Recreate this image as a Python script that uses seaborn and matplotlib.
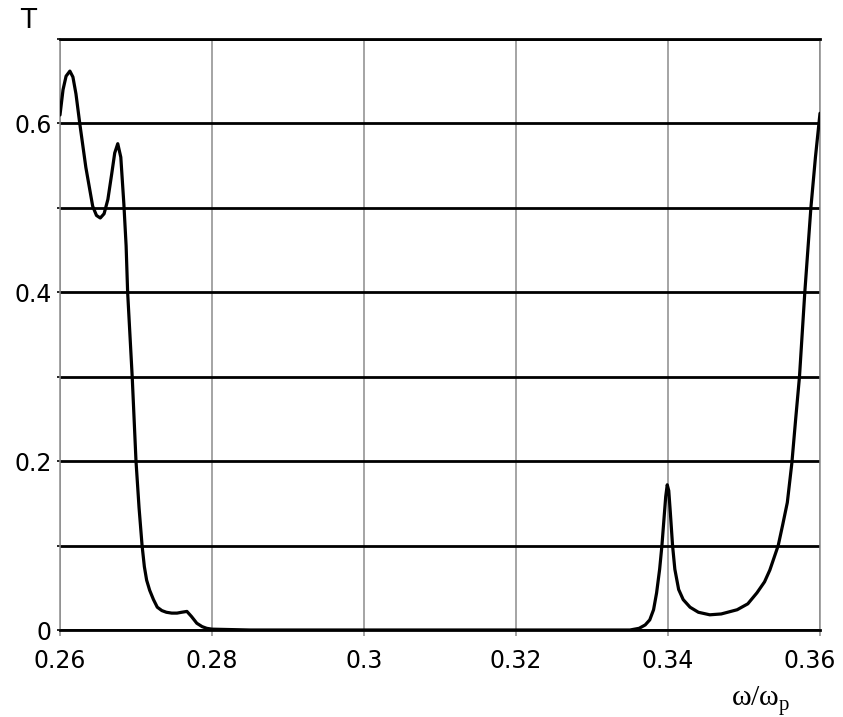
import numpy as np
import pandas as pd
import matplotlib
matplotlib.use("Agg")
import matplotlib.pyplot as plt
from matplotlib.transforms import ScaledTranslation
import seaborn as sns

# Transmission spectrum T(omega/omega_p)
freq = [
    0.2600, 0.2604, 0.2608, 0.2613, 0.2617, 0.2621, 0.2626, 0.2634, 0.2643, 0.2648,
    0.2653, 0.2658, 0.2663, 0.2668, 0.2672, 0.2676, 0.2680, 0.2684, 0.2687, 0.2689,
    0.2692, 0.2695, 0.2700, 0.2704, 0.2708, 0.2711, 0.2714, 0.2718, 0.2723, 0.2728,
    0.2734, 0.2740, 0.2747, 0.2754, 0.2760, 0.2767, 0.2773, 0.2780, 0.2787, 0.2793,
    0.2800, 0.2850, 0.2900, 0.2950, 0.3000, 0.3050, 0.3100, 0.3150, 0.3200, 0.3250,
    0.3300, 0.3350, 0.3362, 0.3370, 0.3376, 0.3381, 0.3385, 0.3389, 0.3392, 0.3395,
    0.3397, 0.3399, 0.3401, 0.3403, 0.3406, 0.3409, 0.3414, 0.3420, 0.3429, 0.3440,
    0.3455, 0.3470, 0.3491, 0.3505, 0.3517, 0.3527, 0.3534, 0.3545, 0.3551, 0.3557,
    0.3563, 0.3568, 0.3573, 0.3580, 0.3588, 0.3594, 0.3600,
]
transmission = [
    0.610, 0.640, 0.656, 0.662, 0.655, 0.635, 0.600, 0.548, 0.502, 0.491,
    0.488, 0.493, 0.510, 0.540, 0.565, 0.576, 0.560, 0.505, 0.455, 0.400,
    0.350, 0.300, 0.200, 0.145, 0.100, 0.075, 0.059, 0.047, 0.036, 0.027,
    0.023, 0.021, 0.020, 0.020, 0.021, 0.022, 0.016, 0.008, 0.004, 0.002,
    0.001, 0.000, 0.000, 0.000, 0.000, 0.000, 0.000, 0.000, 0.000, 0.000,
    0.000, 0.000, 0.002, 0.006, 0.012, 0.024, 0.044, 0.072, 0.100, 0.135,
    0.158, 0.172, 0.165, 0.140, 0.100, 0.072, 0.048, 0.036, 0.027, 0.021,
    0.018, 0.019, 0.024, 0.031, 0.044, 0.057, 0.071, 0.100, 0.125, 0.151,
    0.198, 0.250, 0.300, 0.400, 0.500, 0.560, 0.612,
]

x_ticks = [0.26, 0.28, 0.30, 0.32, 0.34, 0.36]
x_tick_labels = ["0.26", "0.28", "0.3", "0.32", "0.34", "0.36"]
y_ticks = [0.0, 0.1, 0.2, 0.3, 0.4, 0.5, 0.6, 0.7]
y_tick_labels = ["0", "", "0.2", "", "0.4", "", "0.6", ""]

df = pd.DataFrame({"freq": freq, "T": transmission})

sns.set_theme(style="white")
plt.rcParams["font.family"] = ["DejaVu Sans"]
plt.rcParams["mathtext.fontset"] = "custom"
plt.rcParams["mathtext.rm"] = "Liberation Serif"

W, H = 843, 717
fig = plt.figure(figsize=(W / 100, H / 100), dpi=100)
ax = fig.add_axes([60 / W, 87 / H, 760 / W, 591 / H])

sns.lineplot(data=df, x="freq", y="T", color="black", linewidth=2.3,
             ax=ax, zorder=5)

ax.set_xlim(0.26, 0.36)
ax.set_ylim(0, 0.7)
ax.set_xticks(x_ticks)
ax.set_xticklabels(x_tick_labels)
ax.set_yticks(y_ticks)
ax.set_yticklabels(y_tick_labels)
ax.set_xlabel("")
ax.set_ylabel("")

ax.set_axisbelow(True)
ax.grid(axis="y", color="black", linewidth=2.0)
ax.grid(axis="x", color="#8c8c8c", linewidth=1.1)

for side in ("left", "right"):
    ax.spines[side].set_color("#8c8c8c")
    ax.spines[side].set_linewidth(1.1)
for side in ("top", "bottom"):
    ax.spines[side].set_color("black")
    ax.spines[side].set_linewidth(2.0)

ax.tick_params(axis="y", left=True, direction="out", length=2.5, width=1.2,
               color="black", pad=3.5, labelsize=17, labelcolor="black")
ax.tick_params(axis="x", bottom=True, direction="out", length=4, width=1.1,
               color="#8c8c8c", pad=10, labelsize=17, labelcolor="black")

# keep the last x tick label inside the figure
last = ax.get_xticklabels()[-1]
last.set_transform(last.get_transform() + ScaledTranslation(-0.10, 0, fig.dpi_scale_trans))

fig.text(28.5 / W, 1 - 21 / H, "T", ha="center", va="center",
         fontsize=19, color="black")
fig.text(731 / W, 1 - 706 / H, r"$\mathrm{ω/ω}_{\mathrm{p}}$", ha="left",
         va="baseline", fontsize=21.5, color="black")

fig.savefig("out.png", dpi=100)
